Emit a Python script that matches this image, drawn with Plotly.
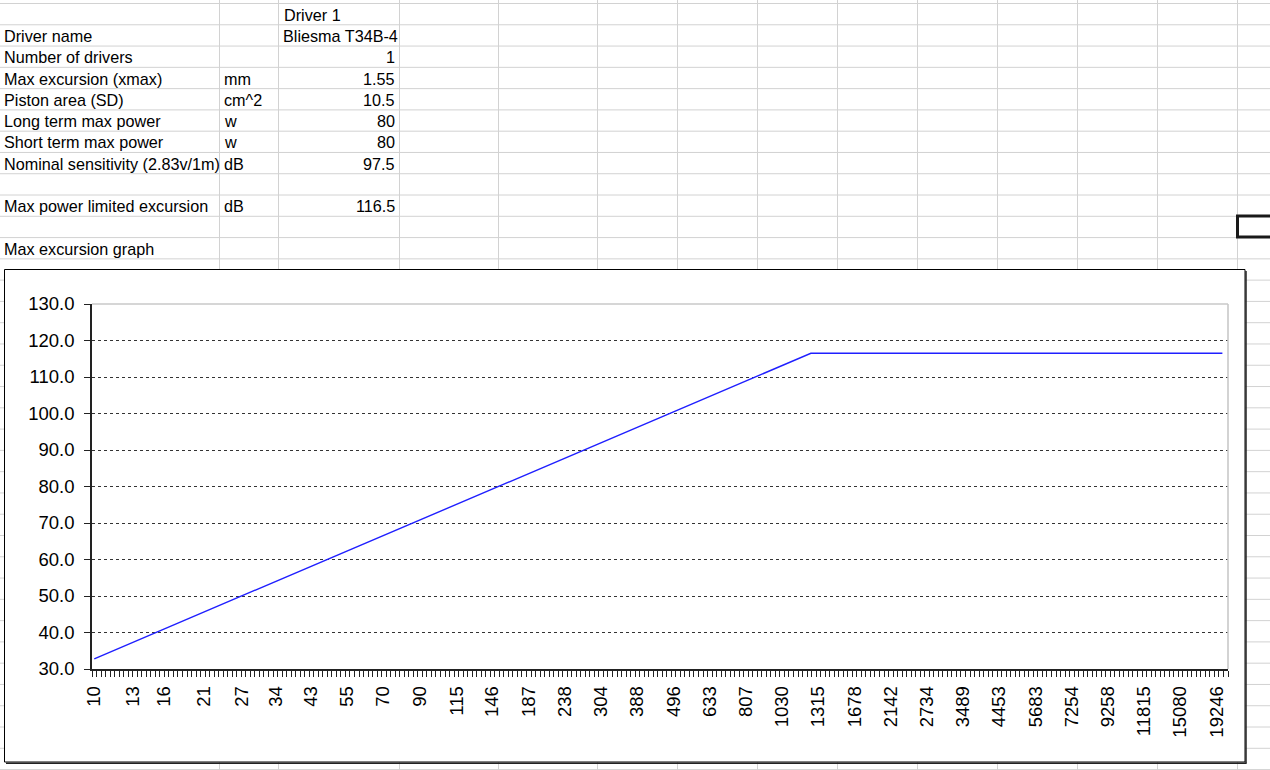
import math
import plotly.graph_objects as go

# ---------------- data ----------------
sheet_header = "Driver 1"
param_names = ["Driver name", "Number of drivers", "Max excursion (xmax)", "Piston area (SD)",
               "Long term max power", "Short term max power", "Nominal sensitivity (2.83v/1m)"]
param_units = ["", "", "mm", "cm^2", "w", "w", "dB"]
param_values = ["Bliesma T34B-4", "1", "1.55", "10.5", "80", "80", "97.5"]
result_name = "Max power limited excursion"
result_unit = "dB"
result_value = "116.5"
graph_title = "Max excursion graph"

freq_hz = [10, 1250, 20000]
max_spl_db = [32.8, 116.5, 116.5]

x_tick_labels = [10, 13, 16, 21, 27, 34, 43, 55, 70, 90, 115, 146, 187, 238, 304, 388, 496,
                 633, 807, 1030, 1315, 1678, 2142, 2734, 3489, 4453, 5683, 7254, 9258, 11815,
                 15080, 19246]
y_ticks = [30, 40, 50, 60, 70, 80, 90, 100, 110, 120, 130]

# ---------------- layout geometry (pixels) ----------------
WIDTH, HEIGHT = 1270, 770
L, R, T, B = 92, 1228, 304, 669
PW, PH = R - L, B - T


def px(x):
    return (x - L) / PW


def py(y):
    return (B - y) / PH


# category axis emulation: 8 categories between labelled ticks, 251 categories
cats_per_label = 8
n_cats = 251
step = math.log10(x_tick_labels[-1] / x_tick_labels[0]) / (cats_per_label * (len(x_tick_labels) - 1))
x_lo = math.log10(x_tick_labels[0]) - step / 2
x_hi = x_lo + n_cats * step
minor_vals = [10 ** (x_lo + k * step) for k in range(n_cats + 1)]

FONT = "Liberation Sans, Arial, sans-serif"

fig = go.Figure()
fig.add_trace(go.Scatter(x=freq_hz, y=max_spl_db, mode="lines",
                         line=dict(color="#1f1fff", width=1.4), showlegend=False,
                         hoverinfo="skip"))

shapes = []
grid_color = "#d2d2d2"
col_lines = [219.5, 278.5, 399.5, 498.5, 597.5, 677.5, 757.5, 837.5, 917.5, 997.5,
             1077.5, 1157.5, 1237.5]
row_h = 21.28
row_lines = [3.5 + row_h * k for k in range(37)]
for yy in row_lines:
    shapes.append(dict(type="line", xref="paper", yref="paper", layer="below",
                       x0=px(-5), x1=px(WIDTH + 5), y0=py(yy), y1=py(yy),
                       line=dict(color=grid_color, width=1)))
for xx in col_lines:
    shapes.append(dict(type="line", xref="paper", yref="paper", layer="below",
                       x0=px(xx), x1=px(xx), y0=py(-5), y1=py(HEIGHT + 5),
                       line=dict(color=grid_color, width=1)))
# chart area box with shadow
shapes.append(dict(type="rect", xref="paper", yref="paper", layer="below",
                   x0=px(4.5), x1=px(1245), y0=py(762), y1=py(269.5),
                   fillcolor="white", line=dict(color="black", width=1)))
shapes.append(dict(type="line", xref="paper", yref="paper", layer="below",
                   x0=px(1246), x1=px(1246), y0=py(271), y1=py(763.5),
                   line=dict(color="#222", width=1.5)))
shapes.append(dict(type="line", xref="paper", yref="paper", layer="below",
                   x0=px(6), x1=px(1246.5), y0=py(763.3), y1=py(763.3),
                   line=dict(color="#222", width=1.5)))
# selected cell
shapes.append(dict(type="rect", xref="paper", yref="paper", layer="below",
                   x0=px(1237.5), x1=px(1280), y0=py(237), y1=py(216),
                   line=dict(color="#1a1a1a", width=3)))
# plot area frame (top/right)
shapes.append(dict(type="line", xref="paper", yref="paper", layer="above",
                   x0=0, x1=1, y0=1, y1=1, line=dict(color="#c8c8c8", width=1.6)))
shapes.append(dict(type="line", xref="paper", yref="paper", layer="above",
                   x0=1, x1=1, y0=0, y1=1, line=dict(color="#c8c8c8", width=1.6)))

annotations = []
TFS = 16.2


def cell_text(row, x, text, align):
    yc = row_lines[row + 1] - 10
    annotations.append(dict(xref="paper", yref="paper", x=px(x), y=py(yc), text=text,
                            showarrow=False, xanchor=align, yanchor="middle",
                            font=dict(family=FONT, size=TFS, color="black")))


def is_number(s):
    try:
        float(s)
        return True
    except ValueError:
        return False


cell_text(0, 281.5, sheet_header, "left")
for i, (n, u, v) in enumerate(zip(param_names, param_units, param_values)):
    r = i + 1
    cell_text(r, 2.0, n, "left")
    if u:
        cell_text(r, 222.0, u, "left")
    if is_number(v):
        cell_text(r, 397.0, v, "right")
    else:
        cell_text(r, 281.0, v, "left")
cell_text(9, 2.0, result_name, "left")
cell_text(9, 222.0, result_unit, "left")
cell_text(9, 397.0, result_value, "right")
cell_text(11, 2.0, graph_title, "left")

axis_font = dict(family=FONT, size=18.5, color="black")
fig.update_layout(
    width=WIDTH, height=HEIGHT,
    margin=dict(l=L, r=WIDTH - R, t=T, b=HEIGHT - B, pad=0),
    paper_bgcolor="white", plot_bgcolor="white",
    shapes=shapes, annotations=annotations, showlegend=False,
    xaxis=dict(type="log", range=[x_lo, x_hi], tickmode="array",
               tickvals=x_tick_labels, ticktext=[str(v) for v in x_tick_labels],
               tickangle=-90, ticks="", showline=True, linecolor="#222", linewidth=1.6,
               showgrid=False, zeroline=False, tickfont=axis_font, ticklabelstandoff=8,
               minor=dict(tickmode="array", tickvals=minor_vals, ticks="outside", ticklen=6,
                          tickcolor="#222", tickwidth=1, showgrid=False)),
    yaxis=dict(range=[30, 130], tickmode="array", tickvals=y_ticks, tickformat=".1f",
               ticks="outside", ticklen=6, tickcolor="#222", tickwidth=1,
               showline=True, linecolor="#222", linewidth=1.6,
               showgrid=True, gridcolor="#333", gridwidth=1, griddash="3px,3px",
               zeroline=False, tickfont=axis_font, ticklabelstandoff=6),
)

fig.write_html("out.html", config={"displayModeBar": False},
               post_script="document.body.style.margin='0';document.body.style.overflow='hidden';")
